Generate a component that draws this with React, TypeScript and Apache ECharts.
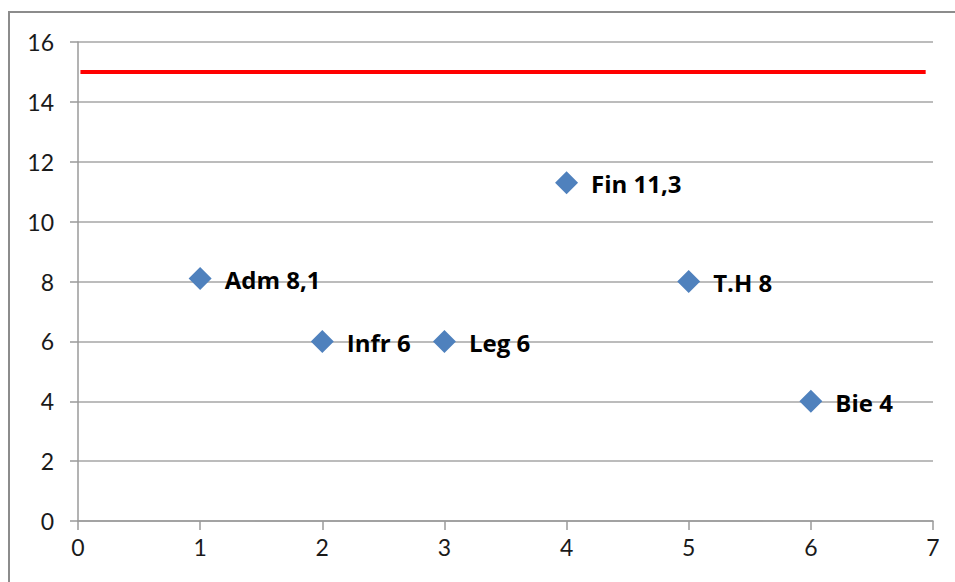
import React, { useEffect, useRef } from "react";
import * as echarts from "echarts";

const names = ["Adm", "Infr", "Leg", "Fin", "T.H", "Bie"];
const xValues = [1, 2, 3, 4, 5, 6];
const yValues = [8.1, 6, 6, 11.3, 8, 4];
const labelValues = ["8,1", "6", "6", "11,3", "8", "4"];
const limitX = [0.02, 6.94];
const limitY = [15, 15];

export default function App() {
  const ref = useRef<HTMLDivElement>(null);
  useEffect(() => {
    if (!ref.current) return;
    const chart = echarts.init(ref.current, null, { renderer: "svg" });
    const pts = xValues.map((x, i) => ({
      value: [x, yValues[i]],
      name: names[i],
      lab: names[i] + " " + labelValues[i],
    }));
    chart.setOption({
      animation: false,
      backgroundColor: "#ffffff",
      grid: { left: 78, top: 42, right: 22, bottom: 61 },
      graphic: [
        {
          type: "rect",
          shape: { x: 9, y: 12, width: 1200, height: 1200 },
          style: { fill: "none", stroke: "#8c8c8c", lineWidth: 2 },
          silent: true,
          z: -10,
        },
      ],
      xAxis: {
        type: "value",
        min: 0,
        max: 7,
        interval: 1,
        splitLine: { show: false },
        axisLine: { show: true, lineStyle: { color: "#9a9a9a", width: 1.5 } },
        axisTick: { show: true, length: 9, lineStyle: { color: "#9a9a9a", width: 1.5 } },
        axisLabel: {
          color: "#1a1a1a",
          fontFamily: "Lato",
          fontSize: 23,
          margin: 14,
        },
      },
      yAxis: {
        type: "value",
        min: 0,
        max: 16,
        interval: 2,
        splitLine: { show: true, lineStyle: { color: "#a6a6a6", width: 1.5 } },
        axisLine: { show: true, lineStyle: { color: "#9a9a9a", width: 1.5 } },
        axisTick: { show: true, length: 8, lineStyle: { color: "#9a9a9a", width: 1.5 } },
        axisLabel: {
          color: "#1a1a1a",
          fontFamily: "Lato",
          fontSize: 23,
          margin: 24,
        },
      },
      series: [
        {
          type: "line",
          data: limitX.map((x, i) => [x, limitY[i]]),
          showSymbol: false,
          symbol: "none",
          lineStyle: { color: "#ff0000", width: 4 },
          z: 3,
        },
        {
          type: "scatter",
          data: pts,
          symbol: "diamond",
          symbolSize: [23, 23],
          itemStyle: { color: "#4f81bd", opacity: 1 },
          label: {
            show: true,
            position: "right",
            distance: 13,
            formatter: (p: any) => p.data.lab,
            fontFamily: "Open Sans",
            fontWeight: "bold",
            fontSize: 24,
            color: "#000000",
            offset: [0, 1],
          },
          z: 4,
        },
      ],
    });
    return () => chart.dispose();
  }, []);
  return (
    <div
      ref={ref}
      style={{ position: "fixed", left: 0, top: 0, width: 955, height: 582 }}
    />
  );
}
